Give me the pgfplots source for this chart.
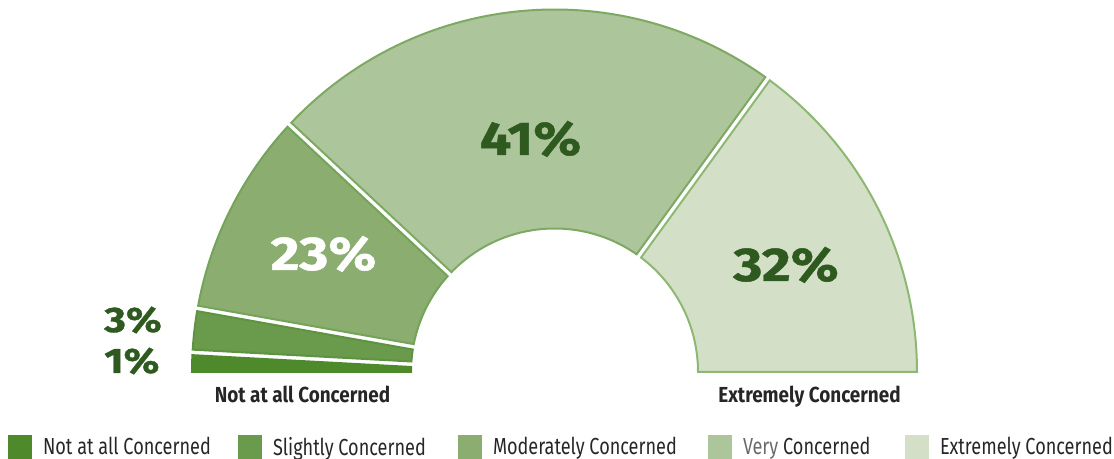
\documentclass[border=0pt]{standalone}
\usepackage{fontspec}
\setmainfont{Fira Sans}
\newfontfamily\legfont[FakeStretch=0.78]{Fira Sans}
\newfontfamily\catfont[FakeStretch=0.87]{Fira Sans}
\newfontfamily\pctfont[FakeStretch=1.18, FakeBold=1]{Fira Sans}
\usepackage{pgfplots}
\usepackage{pgfplotstable}
\pgfplotsset{compat=1.18}

% segment fills and outlines
\definecolor{segc0}{HTML}{4E8A2C}
\definecolor{segc1}{HTML}{6A9A4B}
\definecolor{segc2}{HTML}{8BAD6F}
\definecolor{segc3}{HTML}{ADC59B}
\definecolor{segc4}{HTML}{D3DFC6}
\definecolor{segb0}{HTML}{4E8A2C}
\definecolor{segb1}{HTML}{5E9341}
\definecolor{segb2}{HTML}{74A35A}
\definecolor{segb3}{HTML}{7EA963}
\definecolor{segb4}{HTML}{8DB874}
\definecolor{pctdark}{HTML}{2E5A1F}
\definecolor{legtext}{HTML}{262626}
\definecolor{verygray}{HTML}{6A6A6A}

% share (%) and drawn span of each segment (degrees)
\pgfplotstableread{
pct span
1   3.1
3   7.0
23  32.9
41  83.0
32  54.0
}\segdata

% geometry in picture pixels (1px = 0.75pt)
\def\cx{554.5}
\def\cy{87}
\def\Ro{362.5}
\def\Ri{143.5}
\def\gap{2.75}

\begin{document}
\begin{tikzpicture}
\begin{axis}[
    x=0.75pt, y=0.75pt,
    xmin=0, xmax=1114, ymin=0, ymax=459,
    disabledatascaling,
    hide axis,
    clip=false,
    legend columns=5,
    legend cell align=left,
    legend image code/.code={
        \fill[#1] (0pt,-9pt) rectangle (18pt,9pt);
        \path[draw=none, fill=none] (0pt,-1pt) rectangle (26.25pt,1pt);
    },
    legend style={
        at={(0.00718,0)}, anchor=south west,
        draw=none, fill=none,
        inner sep=0pt, outer sep=0pt,
        column sep=0pt, row sep=0pt,
        nodes={inner sep=0pt, outer sep=0pt},
        font=\legfont\fontsize{17.4pt}{20pt}\selectfont,
        text=legtext,
    },
]
\path (axis cs:0,0) rectangle (axis cs:1114,459);

\xdef\angA{180}
\pgfplotsinvokeforeach{0,...,4}{
    \pgfplotstablegetelem{#1}{span}\of\segdata
    \pgfmathsetmacro\angB{\angA-\pgfplotsretval}
    \pgfmathsetmacro\Ao{\angA-(\angA<179.9)*asin(\gap/\Ro)}
    \pgfmathsetmacro\Ai{\angA-(\angA<179.9)*asin(\gap/\Ri)}
    \pgfmathsetmacro\Bo{\angB+(\angB>0.1)*asin(\gap/\Ro)}
    \pgfmathsetmacro\Bi{\angB+(\angB>0.1)*asin(\gap/\Ri)}
    \pgfmathsetmacro\xA{\cx+\Ro*cos(\Ao)}
    \pgfmathsetmacro\yA{\cy+\Ro*sin(\Ao)}
    \pgfmathsetmacro\xB{\cx+\Ri*cos(\Bi)}
    \pgfmathsetmacro\yB{\cy+\Ri*sin(\Bi)}
    \pgfmathsetmacro\RoPt{\Ro*0.75}
    \pgfmathsetmacro\RiPt{\Ri*0.75}
    \edef\temp{\noexpand\filldraw[overlay, fill=segc#1, draw=segb#1, line width=1.5pt]
        (axis cs:\xA,\yA) arc[start angle=\Ao, end angle=\Bo, radius=\RoPt pt]
        -- (axis cs:\xB,\yB) arc[start angle=\Bi, end angle=\Ai, radius=\RiPt pt]
        -- cycle;}
    \temp
    \xdef\angA{\angB}
}

\addlegendimage{fill=segc0, draw=none}
\addlegendentry{\makebox[146.25pt][l]{Not at all Concerned}}
\addlegendimage{fill=segc1, draw=none}
\addlegendentry{\makebox[138.75pt][l]{Slightly Concerned}}
\addlegendimage{fill=segc2, draw=none}
\addlegendentry{\makebox[161.25pt][l]{Moderately Concerned}}
\addlegendimage{fill=segc3, draw=none}
\addlegendentry{\makebox[121.5pt][l]{\textcolor{verygray}{Very} Concerned}}
\addlegendimage{fill=segc4, draw=none}
\addlegendentry{Extremely Concerned}

% percentage labels
\addplot[forget plot, draw=none, mark=none, nodes near coords,
    point meta=explicit symbolic,
    every node near coord/.style={anchor=base, inner sep=0pt, text=pctdark,
        font=\pctfont\bfseries\fontsize{35.5pt}{40pt}\selectfont}]
    coordinates {(530.5,304) [41\%] (786,178) [32\%]};
\addplot[forget plot, draw=none, mark=none, nodes near coords,
    point meta=explicit symbolic,
    every node near coord/.style={anchor=base, inner sep=0pt, text=white,
        font=\pctfont\bfseries\fontsize{35.5pt}{40pt}\selectfont}]
    coordinates {(323.5,189) [23\%]};
\addplot[forget plot, draw=none, mark=none, nodes near coords,
    point meta=explicit symbolic,
    every node near coord/.style={anchor=base west, inner sep=0pt, text=pctdark,
        font=\pctfont\bfseries\fontsize{26.5pt}{30pt}\selectfont}]
    coordinates {(104,127) [3\%] (104,86) [1\%]};

% end labels under the gauge
\addplot[forget plot, draw=none, mark=none, nodes near coords,
    point meta=explicit symbolic,
    every node near coord/.style={anchor=base, inner sep=0pt, text=legtext,
        font=\catfont\bfseries\fontsize{16.3pt}{19pt}\selectfont}]
    coordinates {(302.5,56) [Not at all Concerned] (809.5,56) [Extremely Concerned]};
\end{axis}
\end{tikzpicture}
\end{document}
